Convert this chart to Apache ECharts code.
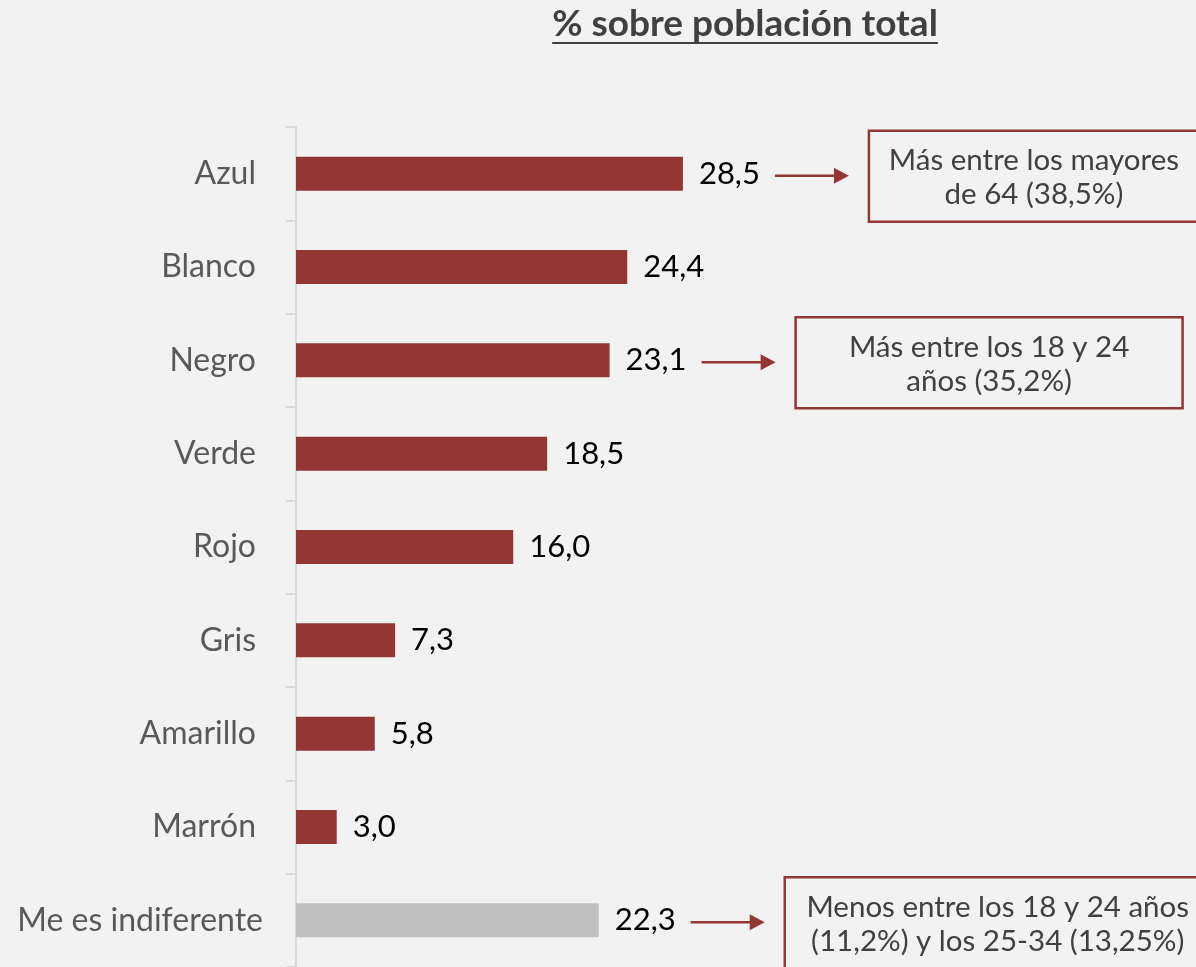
<!DOCTYPE html>
<html>
<head>
<meta charset="utf-8">
<script src="https://cdn.jsdelivr.net/npm/echarts@6/dist/echarts.min.js"></script>
<style>
html,body{margin:0;padding:0;background:#f2f2f2;}
#main{width:1196px;height:967px;}
</style>
</head>
<body>
<div id="main"></div>
<script>
const titleText = '% sobre población total';
const categories = ['Azul','Blanco','Negro','Verde','Rojo','Gris','Amarillo','Marrón','Me es indiferente'];
const values = [28.5, 24.4, 23.1, 18.5, 16.0, 7.3, 5.8, 3.0, 22.3];
const annotCategories = ['Azul','Negro','Me es indiferente'];
const annotTexts = [
  'Más entre los mayores\nde 64 (38,5%)',
  'Más entre los 18 y 24\naños (35,2%)',
  'Menos entre los 18 y 24 años\n(11,2%) y los 25-34 (13,25%)'
];
const annotBoxWidths = [330, 387, 426];

const RED = '#943634';
const GREY = '#bfbfbf';
const FONT = 'Lato';
const NEUTRAL = 'Me es indiferente';

const chart = echarts.init(document.getElementById('main'), null, {renderer:'canvas'});

const option = {
  backgroundColor: '#f2f2f2',
  animation: false,
  grid: {left: 296, top: 127, width: 896, bottom: 0, containLabel: false},
  xAxis: {
    type: 'value', min: 0, max: 66, show: false
  },
  yAxis: {
    type: 'category',
    data: categories,
    inverse: true,
    axisLine: {show: true, lineStyle: {color: '#d9d9d9', width: 2}},
    axisTick: {show: true, length: 10, lineStyle: {color: '#d9d9d9', width: 2}},
    axisLabel: {
      color: '#595959', fontFamily: FONT, fontSize: 32, margin: 33,
      formatter: v => v === NEUTRAL ? '{n|' + v + '}' : '{a|' + v + '}',
      rich: {
        a: {color: '#595959', fontFamily: FONT, fontSize: 32, padding: [0, 7, 0, 0]},
        n: {color: '#595959', fontFamily: FONT, fontSize: 32}
      }
    }
  },
  series: [{
    type: 'bar',
    barWidth: 34,
    data: values.map((v, i) => ({
      value: v,
      itemStyle: {color: categories[i] === NEUTRAL ? GREY : RED}
    })),
    label: {
      show: true, position: 'right', distance: 16,
      color: '#000', fontFamily: FONT, fontSize: 31,
      formatter: p => p.value.toFixed(1).replace('.', ',')
    }
  }]
};
chart.setOption(option);

// title with underline
const TITLE_FONT = 'bold 37px Lato';
const ctx = document.createElement('canvas').getContext('2d');
ctx.font = TITLE_FONT;
const tw = ctx.measureText(titleText).width;
const tcx = 745;

const graphics = [
  {type:'text', x: tcx, y: 24, style:{text:titleText, font:TITLE_FONT, fill:'#404040', textAlign:'center', textVerticalAlign:'middle'}},
  {type:'rect', shape:{x: tcx - tw/2, y: 42, width: tw, height: 2}, style:{fill:'#404040'}}
];

annotCategories.forEach((c, k) => {
  const idx = categories.indexOf(c);
  const p = chart.convertToPixel({seriesIndex:0}, [values[idx], idx]);
  const barEnd = p[0], cy = p[1] + 2;
  const x0 = barEnd + 92, tip = barEnd + 166;
  graphics.push({type:'line', shape:{x1:x0, y1:cy, x2:tip-12, y2:cy}, style:{stroke:RED, lineWidth:2.5}});
  graphics.push({type:'polygon', shape:{points:[[tip-15,cy-8],[tip,cy],[tip-15,cy+8]]}, style:{fill:RED}});
  const bx = barEnd + 186, bw = annotBoxWidths[k];
  graphics.push({type:'rect', shape:{x:bx, y:cy-45, width:bw, height:91}, style:{fill:'none', stroke:RED, lineWidth:2.5}});
  graphics.push({type:'text', x: bx + bw/2, y: cy + 2, style:{text: annotTexts[k], font:'29.5px Lato', fill:'#404040', textAlign:'center', textVerticalAlign:'middle', lineHeight:34}});
});

chart.setOption({graphic: graphics});
</script>
</body>
</html>
